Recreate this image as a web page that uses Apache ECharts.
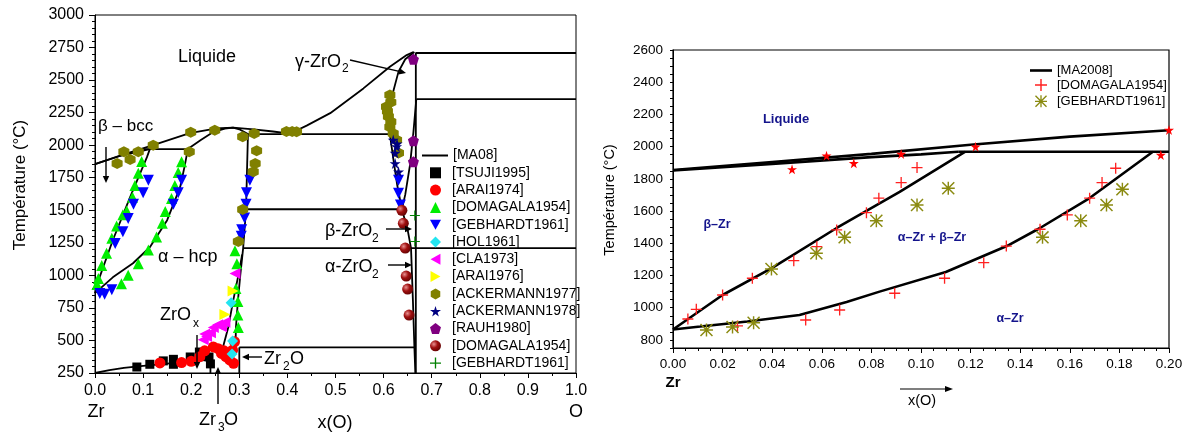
<!DOCTYPE html>
<html><head><meta charset="utf-8">
<script src="https://cdn.jsdelivr.net/npm/echarts@6/dist/echarts.min.js"></script>
<style>html,body{margin:0;padding:0;background:#fff}#c{width:1189px;height:434px}</style>
</head><body><div id="c"></div>
<script>
// ===== Left panel : phase boundaries [x(O), T(°C)] =====
const liquidus     = [[0,1855],[0.06,1930],[0.121,2000],[0.197,2093],[0.25,2128],[0.287,2135],[0.33,2122],[0.37,2105],[0.405,2088],[0.44,2150],[0.489,2246],[0.558,2436],[0.613,2603],[0.648,2692],[0.662,2716]];
const betaSolidus  = [[0,1855],[0.05,1915],[0.114,1970]];
const peritectic   = [[0.095,1970],[0.193,1970]];
const alphaSolidus = [[0.193,1970],[0.22,2040],[0.245,2100],[0.27,2128],[0.287,2135],[0.30,2122],[0.318,2085]];
const betaTransus  = [[0,863],[0.01,990],[0.037,1270],[0.073,1601],[0.108,1908],[0.114,1970]];
const alphaTransus = [[0,863],[0.037,985],[0.079,1093],[0.114,1216],[0.15,1424],[0.177,1678],[0.187,1850],[0.193,1970]];
const alphaRight   = [[0.318,2085],[0.316,1800],[0.314,1508],[0.308,1209],[0.302,1000],[0.297,800],[0.293,600],[0.292,447]];
const orderLine    = [[0.306,1160],[0.298,1000],[0.287,800],[0.277,600],[0.266,447]];
const lowCurve     = [[0,250],[0.03,272],[0.06,290],[0.1,305],[0.15,322],[0.2,340],[0.24,352]];
const lowVert1     = [[0.24,250],[0.24,390]];
const lowVert2     = [[0.3,250],[0.3,447]];
const iso447       = [[0.3,447],[0.664,447]];
const eutectic     = [[0.318,2085],[0.613,2085]];
const iso1508      = [[0.314,1508],[0.638,1508]];
const iso1209      = [[0.308,1209],[1,1209]];
const zro2Solidus  = [[0.613,2085],[0.615,2250],[0.617,2370],[0.631,2565],[0.645,2660],[0.664,2716]];
const cubicLeft    = [[0.613,2085],[0.62,1900],[0.628,1700],[0.638,1508]];
const tetraCubic   = [[0.638,1508],[0.645,1620],[0.655,1850],[0.662,2100],[0.668,2354]];
const tetraLeft    = [[0.638,1508],[0.65,1350],[0.657,1209]];
const monoLeft     = [[0.657,1209],[0.661,800],[0.664,450],[0.666,250]];
const stoichLine   = [[0.667,250],[0.667,2712]];
const iso2708      = [[0.667,2708],[1,2708]];
const iso2354      = [[0.668,2354],[1,2354]];

// ===== Left panel : experimental points =====
const tsuji1995 = [[0.087,296],[0.114,317],[0.142,343],[0.163,355],[0.163,317],[0.198,373],[0.217,411],[0.237,373],[0.24,320]];
const arai1974 = [[0.135,327],[0.18,330],[0.2,340],[0.218,375],[0.228,420],[0.246,450],[0.256,437],[0.263,400],[0.272,375],[0.28,350],[0.288,325],[0.29,490],[0.286,425],[0.268,420]];
const domagala1954 = [[0.004,930],[0.007,975],[0.014,1075],[0.024,1170],[0.035,1285],[0.045,1380],[0.058,1465],[0.066,1495],[0.078,1600],[0.083,1690],[0.09,1785],[0.097,1875],
  [0.055,935],[0.069,1000],[0.09,1090],[0.111,1195],[0.128,1295],[0.14,1400],[0.146,1490],[0.159,1590],[0.166,1690],[0.173,1790],[0.18,1872],
  [0.291,1190],[0.295,1090],[0.293,900],[0.297,800],[0.297,695],[0.298,600]];
const gebhardt1961 = [[0.01,860],[0.02,855],[0.035,890],[0.042,1245],[0.058,1335],[0.069,1437],[0.08,1547],[0.1,1634],[0.111,1731],[0.163,1547],[0.173,1634],[0.18,1731],
  [0.322,1731],[0.315,1634],[0.314,1547],[0.311,1440],[0.305,1350],[0.304,1300],[0.631,1730],[0.631,1630],[0.635,1540]];
const hol1961 = [[0.283,790],[0.286,495],[0.285,395]];
const cla1973 = [[0.291,1015],[0.225,505],[0.232,530],[0.24,560],[0.246,600],[0.255,620],[0.263,605],[0.27,640],[0.228,550]];
const arai1976 = [[0.287,880],[0.27,700]];
const ackermann1977 = [[0.046,1860],[0.06,1950],[0.073,1890],[0.09,1950],[0.121,2000],[0.196,1950],[0.199,2100],[0.249,2115],[0.307,2065],[0.331,2090],[0.336,1957],[0.333,1860],[0.329,1795],[0.307,1505],[0.298,1260],
  [0.398,2105],[0.41,2105],[0.419,2103],[0.613,2385],[0.606,2295],[0.61,2220],[0.613,2140],[0.62,2090],[0.627,2040],[0.631,1940],[0.615,2330],[0.608,2260],[0.615,2180]];
const ackermann1978 = [[0.62,2040],[0.627,1990],[0.624,1940],[0.624,1860],[0.631,1795],[0.628,2010]];
const rauh1980 = [[0.662,2660],[0.662,2035],[0.662,1872]];
const domagala1954b = [[0.638,1500],[0.641,1400],[0.645,1210],[0.647,995],[0.65,895],[0.653,695]];
const gebhardt1961b = [[0.665,1460],[0.665,1260]];

// ===== Right panel (zoom) =====
const rLiquidus     = [[0,1855],[0.04,1905],[0.08,1955],[0.12,2012],[0.16,2062],[0.2,2102]];
const rBetaSolidus  = [[0,1852],[0.04,1893],[0.08,1935],[0.1,1952],[0.115,1968]];
const rPeritectic   = [[0.115,1968],[0.2,1968]];
const rBetaTransus  = [[0,865],[0.02,1079],[0.04,1247],[0.066,1495],[0.0914,1719],[0.1177,1968]];
const rAlphaTransus = [[0,865],[0.011,883],[0.03,915],[0.051,955],[0.07,1035],[0.0833,1100],[0.11,1222],[0.1346,1383],[0.148,1495],[0.168,1681],[0.1935,1968]];
const rDomagala = [[0.006,930],[0.0094,990],[0.02,1079],[0.032,1183],[0.0487,1292],[0.058,1379],[0.066,1483],[0.078,1590],[0.083,1680],[0.092,1777],[0.0984,1870],
  [0.026,887],[0.0535,924],[0.0672,986],[0.0894,1090],[0.1095,1183],[0.1253,1280],[0.1344,1383],[0.148,1487],[0.159,1576],[0.168,1680],[0.173,1777],[0.1785,1866]];
const rStars = [[0.048,1859],[0.0619,1944],[0.0729,1897],[0.092,1955],[0.122,2000],[0.1967,1948],[0.2,2104]];
const rGebhardt = [[0.0135,862],[0.024,880],[0.0325,907],[0.0397,1240],[0.0578,1338],[0.0692,1437],[0.082,1540],[0.0984,1638],[0.111,1742],[0.149,1437],[0.1644,1540],[0.1748,1638],[0.1812,1735]];

const leftSymbolLegend = ['[TSUJI1995]','[ARAI1974]','[DOMAGALA1954]','[GEBHARDT1961]','[HOL1961]','[CLA1973]','[ARAI1976]','[ACKERMANN1977]','[ACKERMANN1978]','[RAUH1980]','[DOMAGALA1954] ','[GEBHARDT1961] '];
const rightSymbolLegend = ['[DOMAGALA1954]  ','[GEBHARDT1961]  '];

// ===== symbols =====
const SYM = {
  down: 'path://M0,0 L10,0 L5,9 Z',
  left: 'path://M9,0 L9,10 L0,5 Z',
  right: 'path://M0,0 L9,5 L0,10 Z',
  hex: 'path://M5,0 L9.33,2.5 L9.33,7.5 L5,10 L0.67,7.5 L0.67,2.5 Z',
  star: 'path://M50,0 L61,35 L98,35 L68,57 L79,91 L50,70 L21,91 L32,57 L2,35 L39,35 Z',
  pent: 'path://M50,0 L98,36 L80,95 L20,95 L2,36 Z',
  plus: 'path://M4.4,0 H5.6 V4.4 H10 V5.6 H5.6 V10 H4.4 V5.6 H0 V4.4 H4.4 Z',
  ast: 'path://M4.45,0 H5.55 V10 H4.45 Z M0,4.45 H10 V5.55 H0 Z M0,0.8 L0.8,0 L10,9.2 L9.2,10 Z M9.2,0 L10,0.8 L0.8,10 L0,9.2 Z'
};
const FONT = '"Liberation Sans", Arial, Helvetica, sans-serif';

function lineS(data, xi, w, name) {
  return {type:'line', name: name, xAxisIndex:xi, yAxisIndex:xi, data:data, symbol:'none', showSymbol:false,
    lineStyle:{color:'#000', width:w}, itemStyle:{color:'#000'}, z:2, silent:true, animation:false, clip:true};
}
function scat(name, data, xi, symbol, size, color) {
  return {type:'scatter', name:name, xAxisIndex:xi, yAxisIndex:xi, data:data, symbol:symbol, symbolSize:size,
    itemStyle:{color:color, opacity:1}, z:3, animation:false};
}

const series = [];
[liquidus,betaSolidus,peritectic,alphaSolidus,betaTransus,alphaTransus,alphaRight,orderLine,lowCurve,lowVert1,lowVert2,iso447,eutectic,iso1508,iso1209,
 zro2Solidus,cubicLeft,tetraCubic,tetraLeft,monoLeft,stoichLine,iso2708,iso2354].forEach(d=>series.push(lineS(d,0,1.8,'[MA08]')));
const ball = {type:'radial', x:0.35, y:0.35, r:0.75, colorStops:[{offset:0,color:'#e89090'},{offset:0.45,color:'#a01010'},{offset:1,color:'#5a0000'}]};
series.push(
  scat('[TSUJI1995]', tsuji1995, 0, 'rect', 9, '#000'),
  scat('[ARAI1974]', arai1974, 0, 'circle', 11, '#ff0000'),
  scat('[DOMAGALA1954]', domagala1954, 0, 'triangle', 11, '#00ee00'),
  scat('[GEBHARDT1961]', gebhardt1961, 0, SYM.down, 11, '#0000ff'),
  scat('[HOL1961]', hol1961, 0, 'diamond', 11, '#22e5f0'),
  scat('[CLA1973]', cla1973, 0, SYM.left, 11, '#ff00ff'),
  scat('[ARAI1976]', arai1976, 0, SYM.right, 11, '#ffff00'),
  scat('[ACKERMANN1977]', ackermann1977, 0, SYM.hex, 11, '#808000'),
  scat('[ACKERMANN1978]', ackermann1978, 0, SYM.star, 11, '#000080'),
  scat('[RAUH1980]', rauh1980, 0, SYM.pent, 11, '#800080'),
  scat('[DOMAGALA1954] ', domagala1954b, 0, 'circle', 11, ball),
  scat('[GEBHARDT1961] ', gebhardt1961b, 0, SYM.plus, 10, '#008000')
);
[rLiquidus,rBetaSolidus,rPeritectic,rBetaTransus,rAlphaTransus].forEach(d=>series.push(lineS(d,1,2.6,'[MA2008]')));
series.push(
  scat('[DOMAGALA1954]  ', rDomagala, 1, SYM.plus, 11, '#ff2020'),
  scat('stars', rStars, 1, SYM.star, 10, '#ff0000'),
  scat('[GEBHARDT1961]  ', rGebhardt, 1, SYM.ast, 13, '#8a8a10')
);

// ===== annotations (pixel) =====
const graphics = [];
function T(x,y,s,size,o){ o=o||{}; graphics.push({type:'text', x:x, y:y, rotation:o.rot||0, z:100, silent:true,
  style:{text:s, font:(o.bold?'bold ':'')+size+'px '+FONT, fill:o.color||'#000', textAlign:o.align||'left', align:o.align||'left', textVerticalAlign:'middle', verticalAlign:'middle'}}); }
function A(x1,y1,x2,y2,L,W,lw){ L=L||7; W=W||3.2; lw=lw||1.4;
  const a=Math.atan2(y2-y1,x2-x1), bx=x2-L*Math.cos(a), by=y2-L*Math.sin(a), px=-Math.sin(a)*W, py=Math.cos(a)*W;
  graphics.push({type:'line', z:100, silent:true, shape:{x1:x1,y1:y1,x2:bx,y2:by}, style:{stroke:'#000', lineWidth:lw}});
  graphics.push({type:'polygon', z:100, silent:true, shape:{points:[[x2,y2],[bx+px,by+py],[bx-px,by-py]]}, style:{fill:'#000'}});
}
// left panel
T(20,185,'Température (°C)',17,{rot:Math.PI/2, align:'center'});
T(96,412,'Zr',18,{align:'center'});
T(576,412,'O',18,{align:'center'});
T(335,423,'x(O)',18,{align:'center'});
T(207,57,'Liquide',18,{align:'center'});
T(98,126,'β – bcc',17);
A(106,147,106,183);
T(158,257,'α – hcp',18);
T(295,62,'γ-ZrO',18); T(342,69,'2',12);
A(350,60,406,73);
T(325,231,'β-ZrO',18); T(372,239,'2',12);
A(386,229,412,229);
T(325,267,'α-ZrO',18); T(372,275,'2',12);
A(388,265,412,265);
T(160,315,'ZrO',18); T(193,324,'x',12);
A(197,335,197,369);
T(264,359,'Zr',18); T(283,367,'2',12); T(290,359,'O',18);
A(262,357,242,357);
T(199,420,'Zr',18); T(218,428,'3',12); T(224,420,'O',18);
A(218,404,218,367);
// right panel
T(610,200,'Température (°C)',14.5,{rot:Math.PI/2, align:'center'});
T(673,383,'Zr',15,{bold:true, align:'center'});
T(922,401,'x(O)',14.5,{align:'center'});
A(900,389,953,389,8,3,1.2);
const NAVY = '#14148c';
T(786,119,'Liquide',13,{bold:true,color:NAVY,align:'center'});
T(717,225,'β–Zr',12.5,{bold:true,color:NAVY,align:'center'});
T(932,238,'α–Zr + β–Zr',12.5,{bold:true,color:NAVY,align:'center'});
T(1010,319,'α–Zr',12.5,{bold:true,color:NAVY,align:'center'});

const axisCommon = {axisLine:{lineStyle:{color:'#000', width:1}}, splitLine:{show:false}, nameTextStyle:{color:'#000'}};
const option = {
  backgroundColor:'#fff',
  animation:false,
  textStyle:{fontFamily:FONT},
  grid:[
    {left:95, top:15, width:481, height:358, show:true, borderColor:'#000', borderWidth:1, backgroundColor:'transparent'},
    {left:673, top:50, width:496, height:298, show:true, borderColor:'#000', borderWidth:1.2, backgroundColor:'transparent'}
  ],
  xAxis:[
    Object.assign({type:'value', gridIndex:0, min:0, max:1, interval:0.1,
      axisTick:{length:5, lineStyle:{color:'#000'}}, minorTick:{show:true, splitNumber:2, length:3, lineStyle:{color:'#000'}},
      axisLabel:{fontSize:16, color:'#000', margin:10, formatter:v=>v.toFixed(1)}}, axisCommon),
    Object.assign({type:'value', gridIndex:1, min:0, max:0.2, interval:0.02,
      axisTick:{length:5, lineStyle:{color:'#000'}}, minorTick:{show:true, splitNumber:4, length:3, lineStyle:{color:'#000'}},
      axisLabel:{fontSize:13.5, color:'#000', margin:9, formatter:v=>v.toFixed(2)}}, axisCommon)
  ],
  yAxis:[
    Object.assign({type:'value', gridIndex:0, min:250, max:3000, interval:250,
      axisTick:{length:6, lineStyle:{color:'#000'}}, minorTick:{show:true, splitNumber:5, length:3, lineStyle:{color:'#000'}},
      axisLabel:{fontSize:16, color:'#000', margin:11, formatter:v=>String(v)}}, axisCommon),
    Object.assign({type:'value', gridIndex:1, min:750, max:2600, interval:50,
      axisTick:{length:3, lineStyle:{color:'#000'}},
      axisLabel:{fontSize:13.5, color:'#000', margin:10, formatter:v=>(v%200===0?String(v):'')}}, axisCommon)
  ],
  legend:[
    {orient:'vertical', left:417, top:143.5, itemWidth:26, itemHeight:2, selectedMode:false, icon:'rect',
     textStyle:{fontSize:14, lineHeight:14, color:'#000', fontFamily:FONT}, data:['[MA08]']},
    {orient:'vertical', left:425, top:160.8, itemWidth:11, itemHeight:11, itemGap:3.3, selectedMode:false,
     textStyle:{fontSize:14, lineHeight:14, color:'#000', fontFamily:FONT, padding:[0,0,0,6]}, data:leftSymbolLegend},
    {orient:'vertical', left:1025, top:59, itemWidth:22, itemHeight:2.6, selectedMode:false, icon:'rect',
     textStyle:{fontSize:13, lineHeight:13, color:'#000', fontFamily:FONT}, data:['[MA2008]']},
    {orient:'vertical', left:1030, top:73.5, itemWidth:12, itemHeight:12, itemGap:3.3, selectedMode:false,
     textStyle:{fontSize:13, lineHeight:13, color:'#000', fontFamily:FONT, padding:[0,0,0,5]}, data:rightSymbolLegend}
  ],
  graphic:graphics,
  series:series
};
const chart = echarts.init(document.getElementById('c'), null, {renderer:'canvas'});
chart.setOption(option);
</script></body></html>
